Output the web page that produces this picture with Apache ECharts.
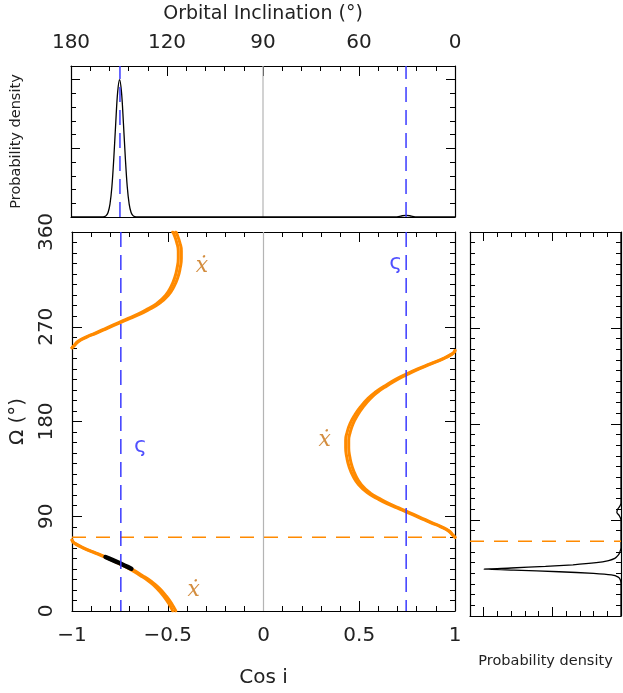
<!DOCTYPE html>
<html><head><meta charset="utf-8">
<script src="https://cdn.jsdelivr.net/npm/echarts@6/dist/echarts.min.js"></script>
<style>html,body{margin:0;padding:0;background:#fff}#c{width:623px;height:693px}</style>
</head><body><div id="c"></div>
<script>
// ---------- tick labels ----------
const cosTickValues = [-1, -0.5, 0, 0.5, 1];
const cosTickLabels = ['\u22121', '\u22120.5', '0', '0.5', '1'];
const inclinationTickLabels = ['180', '120', '90', '60', '0'];
const omegaTickValues = [0, 90, 180, 270, 360];
const omegaTickLabels = ['0', '90', '180', '270', '360'];

// ---------- top panel: probability density vs cos i ----------
const topDensityCos = [-1, -0.837, -0.827, -0.817, -0.807, -0.797, -0.787, -0.777, -0.767, -0.757, -0.747, -0.737, -0.727, -0.717, -0.707, -0.697, -0.687, -0.677, -0.667, -0.657, 0.69, 0.71, 0.725, 0.745, 0.765, 0.78, 0.80, 1];
const topDensityValue = [0, 0, 0.02, 0.1, 0.33, 0.94, 2.2, 4.3, 6.85, 9.1, 10, 9.1, 6.85, 4.3, 2.2, 0.94, 0.33, 0.1, 0.02, 0, 0, 0.04, 0.09, 0.12, 0.09, 0.04, 0, 0];

// ---------- right panel: probability density vs Omega ----------
const rightOmega = [0, 30, 34, 36.5, 38.5, 40, 41.5, 43, 44, 45, 46.5, 48, 50, 52, 54, 57, 60, 64, 90, 94, 97, 100, 103, 106, 360];
const rightDensity = [0, 0, 0.05, 0.2, 0.7, 2, 4.5, 7.8, 10, 8, 5.5, 3.5, 1.8, 0.9, 0.45, 0.2, 0.08, 0, 0, 0.12, 0.3, 0.25, 0.08, 0, 0];

// ---------- main panel: orange constraint band (two edges) ----------
const curveBOmega = [70, 72, 76, 80, 84, 89, 94, 98, 102, 107, 112, 120, 128, 137, 146, 155, 162, 170, 178, 186, 194, 202, 208, 214, 220, 225, 230, 235, 240, 244, 246, 247.5];
const curveBEdge1 = [1.0, 0.988, 0.966, 0.925, 0.872, 0.81, 0.747, 0.697, 0.645, 0.592, 0.545, 0.497, 0.468, 0.447, 0.435, 0.429, 0.429, 0.437, 0.452, 0.476, 0.507, 0.546, 0.585, 0.635, 0.69, 0.745, 0.805, 0.873, 0.94, 0.982, 0.995, 1.0];
const curveBEdge2 = [1.0, 0.99, 0.97, 0.931, 0.879, 0.818, 0.756, 0.707, 0.656, 0.604, 0.558, 0.511, 0.483, 0.463, 0.451, 0.445, 0.445, 0.453, 0.468, 0.491, 0.521, 0.559, 0.597, 0.646, 0.70, 0.754, 0.813, 0.879, 0.944, 0.985, 0.997, 1.0];

const curveAHighOmega = [250, 252, 256, 260, 264, 269, 274, 278, 282, 287, 292, 300, 308, 317, 326, 335, 342, 350, 358, 360];
const curveAHighEdge1 = [-1.0, -0.988, -0.966, -0.925, -0.872, -0.81, -0.747, -0.697, -0.645, -0.592, -0.545, -0.497, -0.468, -0.447, -0.435, -0.429, -0.429, -0.437, -0.452, -0.458];
const curveAHighEdge2 = [-1.0, -0.99, -0.97, -0.931, -0.879, -0.818, -0.756, -0.707, -0.656, -0.604, -0.558, -0.511, -0.483, -0.463, -0.451, -0.445, -0.445, -0.453, -0.468, -0.474];

const curveALowOmega = [0, 6, 14, 22, 28, 34, 40, 45, 50, 55, 60, 64, 66, 67.5];
const curveALowEdge1 = [-0.458, -0.476, -0.507, -0.546, -0.585, -0.635, -0.69, -0.745, -0.805, -0.873, -0.94, -0.982, -0.995, -1.0];
const curveALowEdge2 = [-0.474, -0.491, -0.521, -0.559, -0.597, -0.646, -0.70, -0.754, -0.813, -0.879, -0.944, -0.985, -0.997, -1.0];

// black solution blob
const blobCos = [-0.825, -0.79, -0.755, -0.72, -0.69];
const blobOmega = [51.3, 48.6, 45.8, 42.8, 40.2];

// reference lines
const sigmaCos = [-0.745, 0.745];
const omegaRef = 70;
const densityMax = 11;

// annotations
const xdotCos = [-0.322, 0.32, -0.365];
const xdotOmega = [327.5, 162, 19.7];
const sigmaLabCos = [-0.643, 0.69];
const sigmaLabOmega = [156, 330];

// ---------- helpers ----------
const zip = (a, b) => a.map((v, i) => [v, b[i]]);
const FONT = 'DejaVu Sans';
const TXT = '#222';
const lineAx = { show: true, onZero: false, lineStyle: { color: '#000', width: 1.2 } };
const tick = (len, show = true) => ({ show, inside: true, length: len, lineStyle: { color: '#000', width: 1 } });
const minor = (split, len, show = true) => ({ show, splitNumber: split, length: len, lineStyle: { color: '#000', width: 1 } });
const pick = (vals, labs) => (v) => { const i = vals.findIndex(t => Math.abs(t - v) < 1e-6); return i >= 0 ? labs[i] : ''; };
const noLabel = { show: false };

const cosAxis = (grid, pos, label, extra) => Object.assign({
  type: 'value', gridIndex: grid, position: pos, min: -1, max: 1, interval: 0.5,
  axisLine: lineAx, axisTick: tick(10), minorTick: minor(5, 5), splitLine: { show: false },
  axisLabel: label || noLabel
}, extra || {});
const omegaAxis = (grid, pos, label, extra) => Object.assign({
  type: 'value', gridIndex: grid, position: pos, min: 0, max: 360, interval: 90,
  axisLine: lineAx, axisTick: tick(10), minorTick: minor(9, 5), splitLine: { show: false },
  axisLabel: label || noLabel
}, extra || {});
const densAxis = (grid, pos, extra) => Object.assign({
  type: 'value', gridIndex: grid, position: pos, min: 0, max: densityMax, interval: 5,
  axisLine: lineAx, axisTick: tick(9), minorTick: minor(5, 5), splitLine: { show: false },
  axisLabel: noLabel
}, extra || {});

const line = (xi, yi, data, color, width, extra) => Object.assign({
  type: 'line', xAxisIndex: xi, yAxisIndex: yi, data, symbol: 'none', smooth: 0.3,
  lineStyle: { color, width }, silent: true, clip: true
}, extra || {});
const dashed = (xi, yi, data, color, dash) => line(xi, yi, data, color, 1.5, { smooth: false, lineStyle: { color, width: 1.5, type: dash } });
const band = (data) => line(2, 2, data, ORANGE, BAND_W, { smooth: 0.5, lineStyle: { color: ORANGE, width: BAND_W, join: 'round', cap: 'round' } });

const ORANGE = '#ff8a00';
const BLUE = '#3a3aff';
const GRAY = '#b4b4b4';
const BAND_W = 3;

const option = {
  animation: false,
  backgroundColor: '#fff',
  grid: [
    { left: 71, top: 66, width: 384, height: 151 },
    { left: 71, top: 232, width: 384, height: 384 },
    { left: 470, top: 232, width: 151, height: 384 }
  ],
  xAxis: [
    cosAxis(0, 'top', { show: true, margin: 13, fontFamily: FONT, fontSize: 20, color: TXT, formatter: pick(cosTickValues, inclinationTickLabels) },
      { name: 'Orbital Inclination (\u00b0)', nameLocation: 'middle', nameGap: 42, nameTextStyle: { fontFamily: FONT, fontSize: 19, color: TXT } }),
    cosAxis(0, 'bottom', null, { axisTick: tick(0, false), minorTick: minor(5, 0, false) }),
    cosAxis(1, 'bottom', { show: true, margin: 15, fontFamily: FONT, fontSize: 20, color: TXT, formatter: pick(cosTickValues, cosTickLabels) },
      { name: 'Cos i', nameLocation: 'middle', nameGap: 57, nameTextStyle: { fontFamily: FONT, fontSize: 20, color: TXT } }),
    cosAxis(1, 'top'),
    densAxis(2, 'bottom', { inverse: true, name: 'Probability density', nameLocation: 'middle', nameGap: 38, nameTextStyle: { fontFamily: FONT, fontSize: 14.5, color: TXT } }),
    densAxis(2, 'top', { inverse: true })
  ],
  yAxis: [
    densAxis(0, 'left', { name: 'Probability density', nameLocation: 'middle', nameGap: 47, nameRotate: 90, nameTextStyle: { fontFamily: FONT, fontSize: 14.5, color: TXT } }),
    densAxis(0, 'right'),
    omegaAxis(1, 'left', { show: true, rotate: 90, margin: 15, fontFamily: FONT, fontSize: 20, color: TXT, formatter: pick(omegaTickValues, omegaTickLabels) },
      { name: '\u03a9 (\u00b0)', nameLocation: 'middle', nameGap: 44, nameRotate: 90, nameTextStyle: { fontFamily: FONT, fontSize: 20, color: TXT } }),
    omegaAxis(1, 'right'),
    omegaAxis(2, 'left'),
    omegaAxis(2, 'right')
  ],
  series: [
    // gray cos i = 0 lines
    line(0, 0, [[0, 0], [0, densityMax]], GRAY, 1.2, { smooth: false }),
    line(2, 2, [[0, 0], [0, 360]], GRAY, 1.2, { smooth: false }),
    // top density
    line(0, 0, zip(topDensityCos, topDensityValue), '#000', 1.3, { smooth: 0.35 }),
    // orange band
    band(zip(curveALowEdge1, curveALowOmega)),
    band(zip(curveALowEdge2, curveALowOmega)),
    band(zip(curveAHighEdge1, curveAHighOmega)),
    band(zip(curveAHighEdge2, curveAHighOmega)),
    band(zip(curveBEdge1, curveBOmega)),
    band(zip(curveBEdge2, curveBOmega)),
    // black blob
    line(2, 2, zip(blobCos, blobOmega), '#000', 4.5, { lineStyle: { color: '#000', width: 4.5, cap: 'round' } }),
    // right density
    line(4, 4, zip(rightDensity, rightOmega), '#000', 1.3, { smooth: 0.2 }),
    // orange dashed reference
    dashed(2, 2, [[-1, omegaRef], [1, omegaRef]], ORANGE, [14, 10]),
    dashed(4, 4, [[densityMax, omegaRef], [0, omegaRef]], ORANGE, [14, 10]),
    // blue dashed
    dashed(0, 0, [[sigmaCos[0], 0], [sigmaCos[0], densityMax]], BLUE, [15, 8]),
    dashed(0, 0, [[sigmaCos[1], 0], [sigmaCos[1], densityMax]], BLUE, [15, 8]),
    dashed(2, 2, [[sigmaCos[0], 360], [sigmaCos[0], 0]], BLUE, [15, 8]),
    dashed(2, 2, [[sigmaCos[1], 360], [sigmaCos[1], 0]], BLUE, [15, 8]),
    // annotations
    {
      type: 'scatter', xAxisIndex: 2, yAxisIndex: 2, symbolSize: 0, silent: true,
      data: zip(xdotCos, xdotOmega),
      label: { show: true, position: 'inside', formatter: '\u1e8b', fontFamily: 'DejaVu Serif', fontStyle: 'italic', fontSize: 22, color: '#c8700f' }
    },
    {
      type: 'scatter', xAxisIndex: 2, yAxisIndex: 2, symbolSize: 0, silent: true,
      data: zip(sigmaLabCos, sigmaLabOmega),
      label: { show: true, position: 'inside', formatter: '\u03c2', fontFamily: FONT, fontSize: 22, color: '#2424ff' }
    }
  ]
};
const chart = echarts.init(document.getElementById('c'), null, { renderer: 'canvas' });
chart.setOption(option);
</script>
</body></html>
